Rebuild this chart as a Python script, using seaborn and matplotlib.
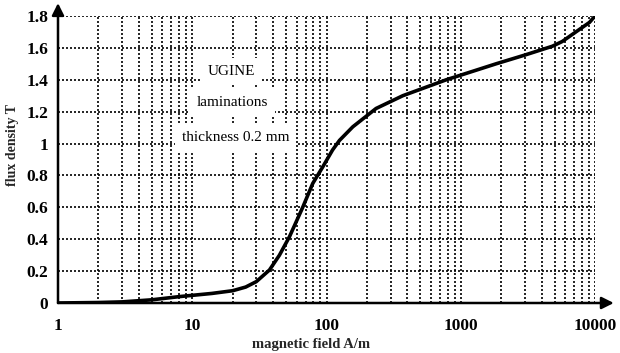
import numpy as np
import pandas as pd
import matplotlib
matplotlib.use("Agg")
import matplotlib.pyplot as plt
from matplotlib.ticker import LogLocator, FixedLocator, NullFormatter
import seaborn as sns

# Data (B-H curve, UGINE laminations)
H_field = [1, 2, 3, 5, 8, 10, 14, 20, 25, 30, 37.6, 44.6, 53, 66.5, 79, 94, 111, 125, 157, 234, 370,
           780, 1830, 3000, 4800, 5700, 7200, 9100, 10000]
B_flux = [0.0, 0.003, 0.007, 0.02, 0.04, 0.048, 0.06, 0.077, 0.10, 0.134, 0.207, 0.30, 0.416, 0.60,
          0.75, 0.855, 0.96, 1.02, 1.105, 1.22, 1.30, 1.40, 1.50, 1.555, 1.61, 1.64, 1.70, 1.76, 1.80]
x_ticks = [1, 10, 100, 1000, 10000]
x_tick_labels = ["1", "10", "100", "1000", "10000"]
y_ticks = [0, 0.2, 0.4, 0.6, 0.8, 1.0, 1.2, 1.4, 1.6, 1.8]
y_tick_labels = ["0", "0.2", "0.4", "0.6", "0.8", "1", "1.2", "1.4", "1.6", "1.8"]
notes = ["UGINE", "laminations", "thickness 0.2 mm"]

sns.set_theme(style="white")
plt.rcParams["font.family"] = ["Liberation Serif", "DejaVu Serif"]

df = pd.DataFrame({"H": H_field, "B": B_flux})

fig = plt.figure(figsize=(6.2, 3.53), dpi=100)
ax = fig.add_axes([58 / 620, 1 - 303 / 353, (595 - 58) / 620, (303 - 16) / 353])

ax.set_xscale("log")
ax.set_xlim(1, 10000)
ax.set_ylim(0, 1.8)

# grid
ax.xaxis.set_major_locator(FixedLocator(x_ticks))
ax.xaxis.set_minor_locator(LogLocator(base=10, subs=np.arange(2, 10)))
ax.xaxis.set_minor_formatter(NullFormatter())
ax.set_xticks(x_ticks)
ax.set_xticklabels(x_tick_labels)
ax.set_yticks(y_ticks)
ax.set_yticklabels(y_tick_labels)
grid_ls = (0, (1.2, 1.2))
ax.grid(True, which="both", axis="x", color="black", linestyle=grid_ls, linewidth=1.2)
ax.grid(True, which="major", axis="y", color="black", linestyle=grid_ls, linewidth=1.2)

sns.lineplot(data=df, x="H", y="B", ax=ax, color="black", linewidth=2.6, zorder=5)

for s in ["top", "right", "left", "bottom"]:
    ax.spines[s].set_visible(False)

# axis arrows
ax.annotate("", xy=(1.035, 0), xytext=(0, 0), xycoords="axes fraction", textcoords="axes fraction",
            arrowprops=dict(arrowstyle="-|>", color="black", lw=1.8, mutation_scale=18,
                            shrinkA=0, shrinkB=0), annotation_clip=False, zorder=10)
ax.annotate("", xy=(0, 1.045), xytext=(0, 0), xycoords="axes fraction", textcoords="axes fraction",
            arrowprops=dict(arrowstyle="-|>", color="black", lw=1.8, mutation_scale=18,
                            shrinkA=0, shrinkB=0), annotation_clip=False, zorder=10)

ax.tick_params(axis="x", which="major", direction="inout", length=6, width=1.3, pad=8,
               labelsize=12.5, colors="black")
ax.tick_params(axis="x", which="minor", length=0)
ax.tick_params(axis="y", which="major", direction="out", length=4, width=1.3, pad=3,
               labelsize=12.5, colors="black")
for lab in ax.get_xticklabels() + ax.get_yticklabels():
    lab.set_fontweight("bold")

ax.set_xlabel("magnetic field A/m", fontsize=10.5, fontweight="bold")
ax.xaxis.set_label_coords((311 - 58) / (595 - 58), -(338 - 303) / (303 - 16))
ax.set_ylabel("flux density T", fontsize=10, fontweight="bold")
ax.yaxis.set_label_coords(-(58 - 19) / (595 - 58), (303 - 145) / (303 - 16))

note_pos = [(19.5, 1.45), (20, 1.26), (21, 1.04)]
for txt, (xx, yy) in zip(notes, note_pos):
    ax.text(xx, yy, txt, ha="center", va="center", fontsize=11, color="black", zorder=6,
            bbox=dict(boxstyle="square,pad=0.45", facecolor="white", edgecolor="none"))

fig.savefig("out.png", dpi=100)
